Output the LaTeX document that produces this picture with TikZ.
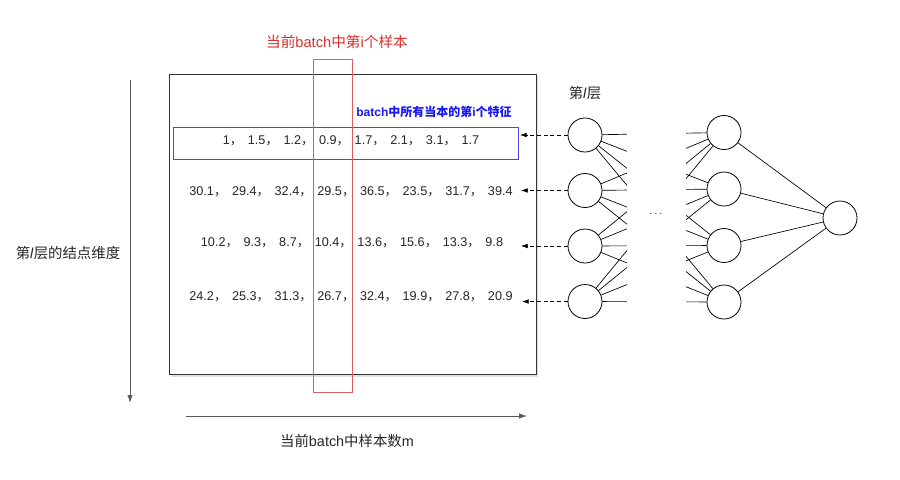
\documentclass[tikz,border=0pt]{standalone}
\usepackage{fontspec}
\setmainfont{Liberation Sans}
\newfontfamily\cjk{Noto Sans CJK SC}
\usetikzlibrary{arrows.meta}
\definecolor{redline}{RGB}{222,90,100}
\definecolor{redtext}{RGB}{214,48,48}
\definecolor{blueline}{RGB}{70,70,240}
\definecolor{bluetext}{RGB}{25,25,245}
\newcommand{\sepc}{{\cjk ，}\kern4pt}
\tikzset{
	neuron/.style={circle, draw, minimum size=25.5pt, inner sep=0pt, line width=0.6pt},
	rowtext/.style={font=\fontsize{9.5}{11}\selectfont, text=black!85},
	axistext/.style={font=\fontsize{10.8}{13}\selectfont, text=black!85},
	feed/.style={dashed, dash pattern=on 3pt off 2pt, line width=0.5pt, -{Latex[length=5pt,width=3.5pt]}},
	axis/.style={black!65, line width=0.6pt, -{Latex[length=6pt,width=4pt]}}
}
\begin{document}
\begin{tikzpicture}[x=0.75pt, y=-0.75pt]
		\useasboundingbox (0,0) rectangle (900,479);
		% batch matrix
		\fill[black!12] (170.5,75.5) rectangle (537.5,376.5);
		\draw[line width=0.7pt, draw=black!80, fill=white] (169,74) rectangle (536,374);
		\draw[blueline, line width=0.6pt] (173,127) rectangle (518,159);
		\node[rowtext] (r1) at (351,141) {1\sepc 1.5\sepc 1.2\sepc 0.9\sepc 1.7\sepc 2.1\sepc 3.1\sepc 1.7};
		\node[rowtext] (r2) at (351,192) {30.1\sepc 29.4\sepc 32.4\sepc 29.5\sepc 36.5\sepc 23.5\sepc 31.7\sepc 39.4};
		\node[rowtext] (r3) at (352,243) {10.2\sepc 9.3\sepc 8.7\sepc 10.4\sepc 13.6\sepc 15.6\sepc 13.3\sepc 9.8};
		\node[rowtext] (r4) at (351,297) {24.2\sepc 25.3\sepc 31.3\sepc 26.7\sepc 32.4\sepc 19.9\sepc 27.8\sepc 20.9};
		\draw[redline, line width=0.6pt] (313,59) rectangle (352,392);
		\node[text=redtext, font=\fontsize{11}{13}\selectfont] (t) at (337,42) {{\cjk 当前}batch{\cjk 中第}i{\cjk 个样本}};
		\node[text=bluetext, font=\bfseries\fontsize{9}{11}\selectfont] (f) at (434,112) {batch{\cjk 中所有当本的第}i{\cjk 个特征}};
		% network
		\node[axistext] (lay) at (585,93) {{\cjk 第}\textit{l}{\cjk 层}};
		\node[neuron] (l1) at (585,135) {};
		\node[neuron] (l2) at (585,190.5) {};
		\node[neuron] (l3) at (585,246) {};
		\node[neuron] (l4) at (585,301.5) {};
		\node[neuron] (h1) at (724,132.5) {};
		\node[neuron] (h2) at (724,189) {};
		\node[neuron] (h3) at (724,245.5) {};
		\node[neuron] (h4) at (724,302) {};
		\node[neuron] (o) at (840,218) {};
		\draw[line width=0.5pt] (l1) -- (h1) (l1) -- (h2) (l1) -- (h3) (l1) -- (h4);
		\draw[line width=0.5pt] (l2) -- (h1) (l2) -- (h2) (l2) -- (h3) (l2) -- (h4);
		\draw[line width=0.5pt] (l3) -- (h1) (l3) -- (h2) (l3) -- (h3) (l3) -- (h4);
		\draw[line width=0.5pt] (l4) -- (h1) (l4) -- (h2) (l4) -- (h3) (l4) -- (h4);
		\draw[line width=0.5pt] (h1) -- (o) (h2) -- (o) (h3) -- (o) (h4) -- (o);
		\fill[white] (627,105) rectangle (686,335);
		\node[font=\fontsize{8}{9}\selectfont] (d) at (656,214) {$\cdots$};
		% feature arrows
		\coordinate (a1) at (520,135);
		\coordinate (a2) at (521,190.5);
		\coordinate (a3) at (521,246);
		\coordinate (a4) at (522,301.5);
		\draw[feed] (l1) -- (a1);
		\draw[feed] (l2) -- (a2);
		\draw[feed] (l3) -- (a3);
		\draw[feed] (l4) -- (a4);
		% axes
		\coordinate (v1) at (130,80);
		\coordinate (v2) at (130,403);
		\draw[axis] (v1) -- (v2);
		\node[axistext] (dim) at (68,253) {{\cjk 第}\textit{l}{\cjk 层的结点维度}};
		\coordinate (m1) at (186,416);
		\coordinate (m2) at (527,416);
		\draw[axis] (m1) -- (m2);
		\node[axistext] (m) at (347,441) {{\cjk 当前}batch{\cjk 中样本数}m};
	\end{tikzpicture}
\end{document}
